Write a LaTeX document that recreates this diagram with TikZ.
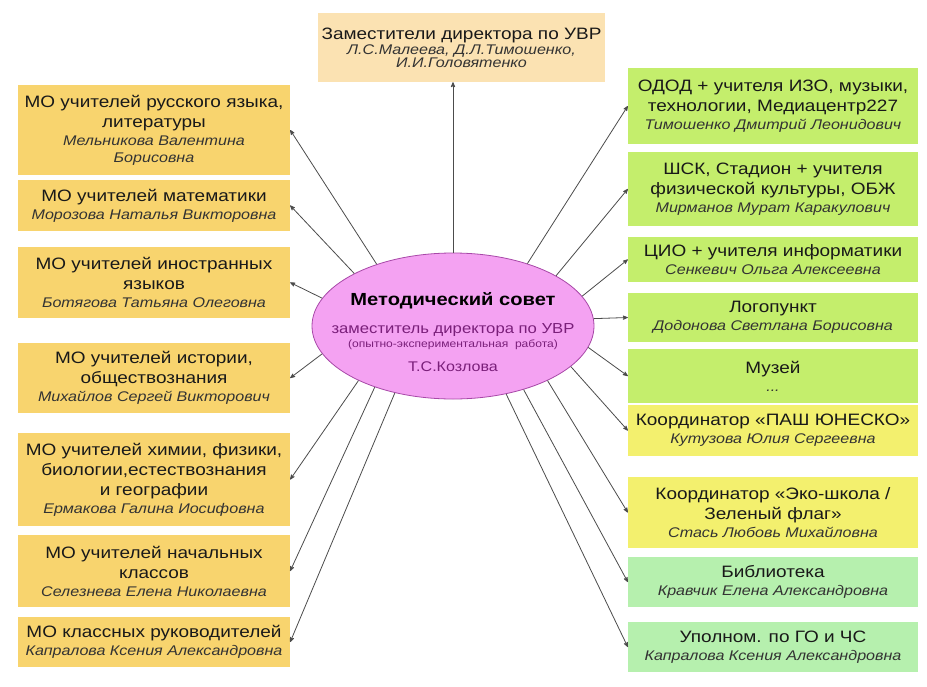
\documentclass[tikz,border=0pt]{standalone}
\usepackage{fontspec}
\setmainfont{Liberation Sans}[FakeStretch=1.15]
\usetikzlibrary{arrows,shapes.geometric,positioning}
\definecolor{mogold}{HTML}{F8D46E}
\definecolor{deputypeach}{HTML}{FBE2B2}
\definecolor{unitlime}{HTML}{C4EE6C}
\definecolor{unityellow}{HTML}{F3F06E}
\definecolor{unitmint}{HTML}{B6F0AE}
\definecolor{councilpink}{HTML}{F4A2F2}
\definecolor{councilline}{HTML}{A848A8}
\definecolor{counciltext}{HTML}{7A1F7A}
\newcommand{\person}[1]{{\fontsize{14}{16}\selectfont\itshape\color{black!80}#1}}
\tikzset{box/.style={rectangle,inner sep=0pt,align=center,text=black!90,font=\fontsize{16.5}{20}\selectfont},
         left box/.style={box,fill=mogold,minimum width=272pt},
         right box/.style={box,fill=unitlime,minimum width=290pt},
         deputy box/.style={box,fill=deputypeach,minimum width=287pt,minimum height=69pt},
         council/.style={ellipse,fill=councilpink,draw=councilline,line width=0.8pt,
                         minimum width=282pt,minimum height=146pt,inner xsep=-60pt,inner ysep=0pt,
                         align=center,text=counciltext,font=\fontsize{14}{14}\selectfont},
         link/.style={->,draw=black!70,line width=0.8pt}
}
\begin{document}
\begin{tikzpicture}[x=1pt,y=-1pt,>=stealth']
\useasboundingbox (0,0) rectangle (927,686);
\fill[white] (0,0) rectangle (927,686);

% centre
\node [council] (mc) at (453,326) {\rule{0pt}{26pt}{\color{black}\bfseries\fontsize{17.5}{20}\selectfont Методический совет}\\[14pt]
    {\fontsize{14.5}{16}\selectfont заместитель директора по УВР}\\
    {\fontsize{10.5}{12}\selectfont (опытно-экспериментальная\ \ работа)}\\[10pt]
    Т.С.Козлова};

\node [deputy box] (top) at (461.5,47.5) {Заместители директора по УВР\\[-5pt]
    \person{Л.С.Малеева, Д.Л.Тимошенко,}\\[-7pt]\person{И.И.Головятенко}};

% methodical units
\node [left box, minimum height=90pt] (l1) at (154,130) {МО учителей русского языка,\\литературы\\[-2pt]
    \person{Мельникова Валентина}\\[-3pt]\person{Борисовна}};
\node [left box, minimum height=51pt] (l2) at (154,205.5) {МО учителей математики\\[-2pt]
    \person{Морозова Наталья Викторовна}};
\node [left box, minimum height=71pt] (l3) at (154,282.5) {МО учителей иностранных\\языков\\[-2pt]
    \person{Ботягова Татьяна Олеговна}};
\node [left box, minimum height=70pt] (l4) at (154,378) {МО учителей истории,\\обществознания\\[-2pt]
    \person{Михайлов Сергей Викторович}};
\node [left box, minimum height=93pt] (l5) at (154,479.5) {МО учителей химии, физики,\\биологии,естествознания\\и географии\\[-2pt]
    \person{Ермакова Галина Иосифовна}};
\node [left box, minimum height=72pt] (l6) at (154,571) {МО учителей начальных\\классов\\[-2pt]
    \person{Селезнева Елена Николаевна}};
\node [left box, minimum height=50pt] (l7) at (154,642) {МО классных руководителей\\[-2pt]
    \person{Капралова Ксения Александровна}};

% other units
\node [right box, minimum height=76pt] (r1) at (773,106) {ОДОД + учителя ИЗО, музыки,\\технологии, Медиацентр227\\[-2pt]
    \person{Тимошенко Дмитрий Леонидович}};
\node [right box, minimum height=74pt] (r2) at (773,189) {ШСК, Стадион + учителя\\физической культуры, ОБЖ\\[-2pt]
    \person{Мирманов Мурат Каракулович}};
\node [right box, minimum height=45pt] (r3) at (773,259.5) {ЦИО + учителя информатики\\[-2pt]
    \person{Сенкевич Ольга Алексеевна}};
\node [right box, minimum height=49pt] (r4) at (773,317.5) {Логопункт\\[-2pt]
    \person{Додонова Светлана Борисовна}};
\node [right box, minimum height=54pt] (r5) at (773,376) {Музей\\[-2pt]
    {\color{gray}\person{...}}};
\node [right box, fill=unityellow, minimum height=51pt] (r6) at (773,430.5) {Координатор «ПАШ ЮНЕСКО»\\[-2pt]
    \person{Кутузова Юлия Сергеевна}};
\node [right box, fill=unityellow, minimum height=71pt] (r7) at (773,512.5) {Координатор «Эко-школа /\\Зеленый флаг»\\[-2pt]
    \person{Стась Любовь Михайловна}};
\node [right box, fill=unitmint, minimum height=50pt] (r8) at (773,582) {Библиотека\\[-2pt]
    \person{Кравчик Елена Александровна}};
\node [right box, fill=unitmint, minimum height=50pt] (r9) at (773,647) {Уполном. по ГО и ЧС\\[-2pt]
    \person{Капралова Ксения Александровна}};

% arrows
\draw [link] (mc.north) -- (mc.north |- top.south);
\foreach \a/\n in {141/l1,152/l2,168/l3,192/l4,210/l5,218/l6,229/l7}
    \draw [link] (mc.\a) -- (\n.east);
\foreach \a/\n in {40/r1,26/r2,13/r3,3/r4,351/r5,341/r6,330/r7,318/r8,308/r9}
    \draw [link] (mc.\a) -- (\n.west);
\end{tikzpicture}
\end{document}
